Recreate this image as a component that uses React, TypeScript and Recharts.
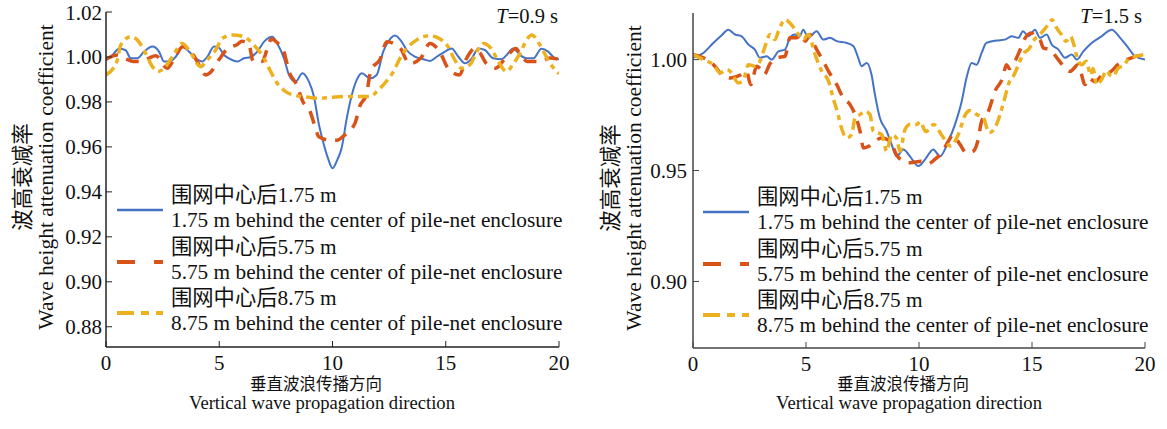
import React from 'react';
import { LineChart, Line, XAxis, YAxis } from 'recharts';

type Pt = [number, number];

const xTicks = [0, 5, 10, 15, 20];
const yTicksA = [0.88, 0.9, 0.92, 0.94, 0.96, 0.98, 1.0, 1.02];
const yTicksB = [0.9, 0.95, 1.0];

const nameZh = ['围网中心后1.75 m', '围网中心后5.75 m', '围网中心后8.75 m'];
const nameEn = [
  '1.75 m behind the center of pile-net enclosure',
  '5.75 m behind the center of pile-net enclosure',
  '8.75 m behind the center of pile-net enclosure',
];

// T = 0.9 s
const a175: Pt[] = [
  [0, 0.9987], [0.3, 1.001], [0.57, 1.0036], [0.87, 1.003], [1.09, 0.9994], [1.38, 0.9994], [1.68, 1.0024],
  [2.05, 1.0046], [2.34, 1.0024], [2.56, 0.998], [2.77, 0.998], [3.08, 1.0001], [3.37, 1.0046], [3.66, 1.0024],
  [3.96, 0.9994], [4.25, 0.998], [4.47, 1.0], [4.77, 1.0046], [4.99, 1.004], [5.21, 1.0009], [5.43, 0.9994],
  [5.8, 0.998], [6.09, 0.9994], [6.39, 1.0], [6.68, 1.0024], [6.98, 1.0068], [7.34, 1.009], [7.56, 1.006],
  [7.86, 0.9994], [8.08, 0.992], [8.37, 0.989], [8.67, 0.9928], [8.96, 0.989], [9.18, 0.9824], [9.4, 0.97],
  [9.62, 0.961], [9.8, 0.955], [10.0, 0.9505], [10.2, 0.954], [10.4, 0.9594], [10.63, 0.9728], [10.85, 0.983],
  [11.07, 0.9898], [11.29, 0.9928], [11.66, 0.9905], [11.95, 0.992], [12.24, 1.0024], [12.46, 1.0068],
  [12.76, 1.0095], [13.05, 1.0068], [13.27, 1.0031], [13.64, 1.0001], [14.01, 0.999], [14.3, 0.9982],
  [14.6, 1.0001], [14.97, 1.0024], [15.26, 1.0038], [15.56, 1.0001], [15.85, 0.9972], [16.15, 0.9994],
  [16.44, 1.0038], [16.73, 1.0031], [17.1, 0.9994], [17.47, 0.999], [17.69, 1.0009], [17.98, 1.0038],
  [18.28, 1.0009], [18.57, 0.9994], [18.87, 0.9994], [19.23, 1.0036], [19.52, 1.0024], [19.82, 0.9994], [20, 0.999],
];
const a575: Pt[] = [
  [0, 0.999], [0.5, 1.0009], [0.9, 0.999], [1.2, 0.998], [1.6, 0.998], [1.9, 0.9995], [2.2, 1.0005], [2.7, 0.995],
  [3.0, 0.999], [3.4, 1.0046], [3.6, 1.003], [3.85, 1.0009], [4.15, 0.9957], [4.4, 0.992], [4.6, 0.993], [5.0, 0.999],
  [5.4, 1.004], [5.8, 1.0055], [6.0, 1.007], [6.3, 1.006], [6.5, 0.998], [6.9, 0.998], [7.1, 1.003], [7.3, 1.008],
  [7.6, 1.006], [7.8, 1.004], [8.1, 0.993], [8.4, 0.988], [8.7, 0.98], [9.0, 0.976], [9.2, 0.97], [9.4, 0.9645],
  [9.9, 0.963], [10.2, 0.963], [10.5, 0.965], [11.0, 0.9707], [11.2, 0.978], [11.5, 0.9836], [11.7, 0.9942],
  [12.1, 0.999], [12.4, 1.0068], [12.7, 1.006], [13.0, 1.0038], [13.4, 0.997], [13.9, 0.9995], [14.3, 1.006],
  [14.75, 1.002], [15.1, 0.995], [15.6, 0.992], [15.9, 0.999], [16.3, 1.0038], [16.5, 1.002], [16.8, 0.997],
  [17.2, 0.995], [17.6, 0.999], [18.1, 1.0038], [18.3, 1.001], [18.6, 0.998], [19.2, 0.998], [19.6, 0.9995], [20, 0.999],
];
const a875: Pt[] = [
  [0, 0.992], [0.48, 0.998], [0.65, 1.0053], [1.09, 1.009], [1.38, 1.0076], [1.75, 1.0016], [2.05, 0.9957],
  [2.3, 0.9935], [2.56, 0.995], [2.93, 1.0001], [3.37, 1.006], [3.7, 1.0024], [4.18, 0.9957], [4.47, 0.9987],
  [4.84, 1.0031], [5.14, 1.0083], [5.58, 1.0098], [6.09, 1.009], [6.53, 1.0053], [6.98, 0.9994], [7.27, 0.9935],
  [7.56, 0.9883], [7.93, 0.9846], [8.3, 0.983], [8.74, 0.9824], [9.33, 0.9816], [9.92, 0.982], [10.5, 0.9824],
  [11.1, 0.9824], [11.7, 0.9824], [11.95, 0.9846], [12.3, 0.9883], [12.69, 0.9935], [12.98, 0.9994],
  [13.28, 1.0038], [13.72, 1.0076], [14.3, 1.0095], [14.75, 1.008], [15.1, 1.0046], [15.4, 0.9987], [15.7, 0.995],
  [16.1, 0.997], [16.37, 1.0024], [16.66, 1.006], [17.0, 1.0038], [17.32, 0.998], [17.69, 0.9935], [17.98, 0.997],
  [18.28, 1.0016], [18.57, 1.0076], [18.8, 1.0098], [19.16, 1.0053], [19.6, 0.9972], [20, 0.9925],
];

// T = 1.5 s
const b175: Pt[] = [
  [0, 1.0008], [0.46, 1.003], [0.9, 1.0075], [1.27, 1.011], [1.56, 1.0135], [1.86, 1.0113], [2.15, 1.0105],
  [2.45, 1.0068], [2.74, 1.0045], [2.96, 1.0008], [3.26, 1.0015], [3.48, 1.0], [3.78, 1.0037], [4.07, 1.0045],
  [4.29, 1.0098], [4.5, 1.0113], [4.72, 1.0105], [4.88, 1.0135], [5.1, 1.0098], [5.47, 1.0128], [5.77, 1.009],
  [6.06, 1.0098], [6.36, 1.0083], [6.8, 1.0075], [7.1, 1.006], [7.31, 1.0008], [7.46, 0.997], [7.69, 0.9985],
  [7.9, 0.9932], [8.05, 0.9842], [8.27, 0.9737], [8.57, 0.9677], [8.79, 0.9617], [9.01, 0.9564], [9.31, 0.9595],
  [9.6, 0.9564], [9.97, 0.952], [10.27, 0.955], [10.63, 0.9595], [10.93, 0.9564], [11.3, 0.9632], [11.59, 0.9707],
  [11.89, 0.9812], [12.1, 0.9917], [12.33, 0.9985], [12.55, 0.9977], [12.77, 1.003], [12.98, 1.0075],
  [13.43, 1.0086], [13.8, 1.009], [14.1, 1.0105], [14.4, 1.0098], [14.6, 1.0128], [14.84, 1.0105], [15.13, 1.0135],
  [15.35, 1.0098], [15.65, 1.0113], [15.87, 1.0068], [16.17, 1.0045], [16.46, 1.0008], [16.76, 1.0023],
  [16.98, 1.0], [17.27, 1.0037], [17.64, 1.0075], [18.08, 1.0105], [18.53, 1.0135], [18.9, 1.0098],
  [19.26, 1.0053], [19.56, 1.0015], [20, 1.0],
];
const b575: Pt[] = [
  [0, 1.0023], [0.46, 1.0008], [0.97, 0.997], [1.27, 0.9932], [1.64, 0.9917], [2.08, 0.993], [2.37, 0.9947],
  [2.55, 0.9887], [2.82, 0.997], [3.0, 0.9955], [3.15, 0.9932], [3.4, 0.998], [3.7, 1.0008], [4.07, 1.0015],
  [4.29, 1.0098], [4.57, 1.0098], [4.8, 1.0113], [4.96, 1.0083], [5.18, 1.0113], [5.4, 1.006], [5.77, 0.9992],
  [6.0, 0.9947], [6.36, 0.9887], [6.65, 0.9827], [6.95, 0.9797], [7.17, 0.9752], [7.39, 0.9677], [7.54, 0.9602],
  [7.8, 0.961], [8.05, 0.9632], [8.35, 0.9647], [8.72, 0.9632], [9.01, 0.957], [9.31, 0.9542], [9.6, 0.9535],
  [10.1, 0.9542], [10.4, 0.953], [10.7, 0.955], [11.0, 0.958], [11.3, 0.9632], [11.5, 0.966], [11.8, 0.962],
  [12.1, 0.958], [12.4, 0.9587], [12.6, 0.9632], [12.77, 0.9722], [13.07, 0.9767], [13.36, 0.9857],
  [13.7, 0.9917], [13.87, 0.9977], [14.0, 0.996], [14.24, 0.9992], [14.5, 1.005], [14.7, 1.0098], [14.98, 1.012],
  [15.15, 1.01], [15.35, 1.009], [15.5, 1.0053], [15.8, 1.0045], [16.1, 1.0008], [16.4, 0.997], [16.68, 0.9947],
  [17.04, 0.9977], [17.35, 0.9887], [17.5, 0.9917], [17.8, 0.99], [18.1, 0.993], [18.5, 0.9947], [18.8, 0.9977],
  [19.4, 1.0008], [20, 1.0023],
];
const b875: Pt[] = [
  [0, 1.0023], [0.46, 1.0], [0.9, 0.9977], [1.2, 0.994], [1.5, 0.9955], [1.71, 0.994], [2.0, 0.9895], [2.24, 0.991],
  [2.45, 0.9977], [2.74, 0.997], [2.96, 0.9992], [3.19, 1.006], [3.41, 1.0113], [3.63, 1.009], [3.78, 1.0128],
  [4.07, 1.018], [4.29, 1.0165], [4.57, 1.0128], [4.88, 1.009], [5.1, 1.0113], [5.4, 1.0023], [5.7, 0.9947],
  [6.0, 0.9902], [6.2, 0.9827], [6.42, 0.9752], [6.57, 0.9692], [6.8, 0.9647], [7.02, 0.9662], [7.17, 0.9737],
  [7.39, 0.9752], [7.61, 0.9767], [7.83, 0.9752], [7.98, 0.9677], [8.35, 0.9662], [8.57, 0.9587], [8.79, 0.9662],
  [9.0, 0.9647], [9.16, 0.9587], [9.38, 0.9685], [9.6, 0.9707], [9.9, 0.9707], [10.05, 0.972], [10.3, 0.9675],
  [10.65, 0.9707], [11.0, 0.966], [11.4, 0.961], [11.75, 0.9665], [12.04, 0.975], [12.26, 0.977], [12.6, 0.975],
  [12.85, 0.9737], [13.1, 0.967], [13.43, 0.9707], [13.58, 0.975], [13.75, 0.981], [14.0, 0.99], [14.2, 0.993],
  [14.4, 0.9977], [14.6, 1.0023], [14.9, 1.0053], [15.05, 1.0083], [15.35, 1.0113], [15.6, 1.0143], [15.9, 1.018],
  [16.0, 1.0158], [16.3, 1.0113], [16.5, 1.0083], [16.7, 1.0105], [16.85, 1.0068], [17.0, 1.0008], [17.2, 0.9977],
  [17.4, 0.9992], [17.6, 0.993], [17.7, 0.996], [17.86, 0.9887], [18.08, 0.991], [18.3, 0.995], [18.45, 0.993],
  [18.6, 0.9925], [18.8, 0.996], [19.1, 0.9977], [19.3, 1.0008], [19.6, 1.0015], [20, 1.0023],
];

const colors = ['#4472C4', '#D95319', '#EDB120'];
const dashes = [undefined, '13 9', '11 5 5 5'];
const widths = [2, 3.5, 3.5];

const SERIF = '"Liberation Serif", "Times New Roman", "Noto Sans CJK SC", serif';

const toRows = (pts: Pt[]) => pts.map(([x, y]) => ({ x, y }));

function Panel({ left, width, margin, series, yDomain, yTicks, yMargin, axisColor }: any) {
  const tickStyle = { fill: '#111', fontSize: 21, fontFamily: SERIF };
  return (
    <div style={{ position: 'absolute', left, top: 0 }}>
      <LineChart width={width} height={429} margin={margin}>
        <XAxis
          type="number"
          dataKey="x"
          domain={[0, 20]}
          ticks={xTicks}
          allowDataOverflow
          height={30}
          tickSize={-6}
          tickMargin={14}
          tick={tickStyle}
          axisLine={{ stroke: axisColor, strokeWidth: 1.5 }}
          tickLine={{ stroke: axisColor }}
        />
        <YAxis
          type="number"
          domain={yDomain}
          ticks={yTicks}
          allowDataOverflow
          width={40}
          tickSize={-6}
          tickMargin={yMargin}
          tickFormatter={(v: number) => v.toFixed(2)}
          tick={tickStyle}
          axisLine={{ stroke: axisColor, strokeWidth: 1.5 }}
          tickLine={{ stroke: axisColor }}
        />
        {series.map((pts: Pt[], i: number) => (
          <Line
            key={i}
            data={toRows(pts)}
            dataKey="y"
            type="monotone"
            stroke={colors[i]}
            strokeWidth={widths[i]}
            strokeDasharray={dashes[i]}
            dot={false}
            activeDot={false}
            isAnimationActive={false}
          />
        ))}
      </LineChart>
    </div>
  );
}

function Legend({ x, y }: { x: number; y: number }) {
  return (
    <div style={{ position: 'absolute', left: x, top: y, fontFamily: SERIF, fontSize: 21.3, color: '#111' }}>
      {nameZh.map((zh, i) => (
        <div key={i} style={{ position: 'absolute', left: 0, top: i * 51.5, width: 470, height: 50 }}>
          <svg width={46} height={50} style={{ position: 'absolute', left: 0, top: 0 }}>
            <line x1={0} x2={46} y1={14} y2={14} stroke={colors[i]} strokeWidth={widths[i] === 2 ? 2.5 : 4} strokeDasharray={i === 1 ? '18 19' : i === 2 ? '17 7 8 7' : undefined} />
          </svg>
          <div style={{ position: 'absolute', left: 54, top: -13, lineHeight: '25px', whiteSpace: 'nowrap' }}>
            <div>{zh}</div>
            <div>{nameEn[i]}</div>
          </div>
        </div>
      ))}
    </div>
  );
}

function YTitle({ cx, cy }: { cx: number; cy: number }) {
  return (
    <div
      style={{
        position: 'absolute', left: cx, top: cy, transform: 'translate(-50%, -50%) rotate(-90deg)',
        fontFamily: SERIF, fontSize: 21.5, lineHeight: '23px', textAlign: 'center', whiteSpace: 'nowrap', color: '#111',
      }}
    >
      <div>波高衰减率</div>
      <div>Wave height attenuation coefficient</div>
    </div>
  );
}

function XTitle({ cx }: { cx: number }) {
  return (
    <>
      <div
        style={{
          position: 'absolute', left: cx - 6, top: 385, transform: 'translate(-50%, -50%)',
          fontFamily: SERIF, fontSize: 16.5, lineHeight: '16px', whiteSpace: 'nowrap', color: '#111',
        }}
      >
        垂直波浪传播方向
      </div>
      <div
        style={{
          position: 'absolute', left: cx, top: 403, transform: 'translate(-50%, -50%)',
          fontFamily: SERIF, fontSize: 18.6, lineHeight: '18px', whiteSpace: 'nowrap', color: '#111',
        }}
      >
        Vertical wave propagation direction
      </div>
    </>
  );
}

function PeriodTag({ right, value }: { right: number; value: string }) {
  return (
    <div style={{ position: 'absolute', right, top: 4, lineHeight: '24px', fontFamily: SERIF, fontSize: 20.5, color: '#111' }}>
      <i>T</i>={value}
    </div>
  );
}

export default function App() {
  return (
    <div style={{ position: 'absolute', left: 0, top: 0, width: 1167, height: 429, background: '#fff', overflow: 'hidden' }}>
      <Panel
        left={0}
        width={580}
        margin={{ top: 12, right: 21, bottom: 52, left: 66 }}
        series={[a175, a575, a875]}
        yDomain={[0.871, 1.02]}
        yTicks={yTicksA}
        yMargin={10}
        axisColor="#222"
      />
      <Panel
        left={600}
        width={567}
        margin={{ top: 13, right: 22, bottom: 51, left: 53 }}
        series={[b175, b575, b875]}
        yDomain={[0.87, 1.021]}
        yTicks={yTicksB}
        yMargin={12}
        axisColor="#444"
      />
      <YTitle cx={34.5} cy={177} />
      <YTitle cx={622.5} cy={178} />
      <XTitle cx={322} />
      <XTitle cx={909} />
      <PeriodTag right={609} value="0.9 s" />
      <PeriodTag right={25} value="1.5 s" />
      <Legend x={117} y={196} />
      <Legend x={703} y={198} />
    </div>
  );
}
